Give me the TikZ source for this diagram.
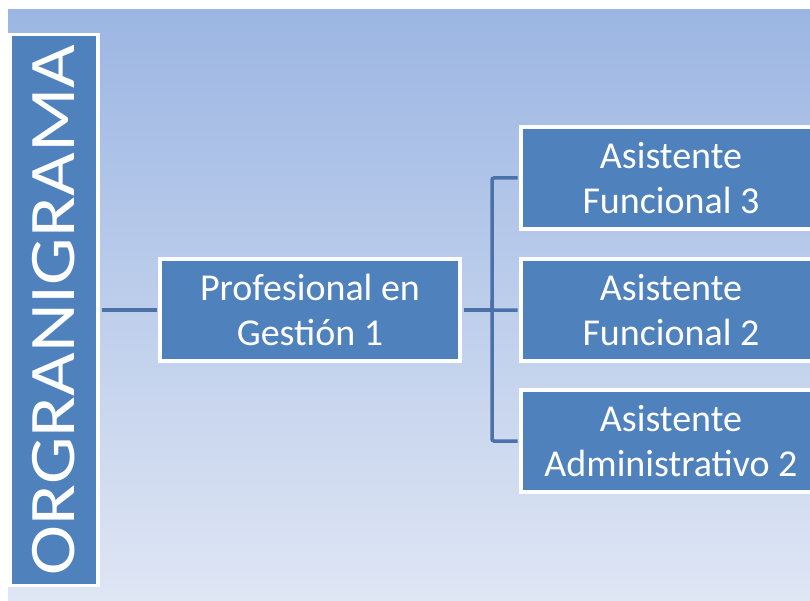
\documentclass[tikz,border=0pt]{standalone}
\usepackage{fontspec}
\setmainfont{Carlito}
\definecolor{boxblue}{HTML}{4F81BD}
\definecolor{linkblue}{HTML}{4A72A8}
\definecolor{skytop}{HTML}{9CB6E3}
\definecolor{skybottom}{HTML}{DFE6F4}

\begin{document}
\begin{tikzpicture}
[x=1pt,y=-1pt,
 unitbox/.style={rectangle,fill=boxblue,draw=white,line width=3.5pt,text=white,
   minimum width=300pt,minimum height=102pt,inner sep=0pt,align=center,
   font=\fontsize{38}{45}\selectfont},
 link/.style={draw=linkblue,line width=3.5pt,rounded corners=2pt}]
  \useasboundingbox (0,0) rectangle (810,601);
  \shade[top color=skytop,bottom color=skybottom] (8,10) rectangle (810,601);

  \node[unitbox,rotate=90,minimum width=551pt,minimum height=88pt,
        font=\fontsize{65}{65}\selectfont] (org) at (54,310)
        {\scalebox{1.16}[1]{ORGRANIGRAMA}};
  \node[unitbox] (prof)  at (310,310) {Profesional en\\Gestión 1};
  \node[unitbox] (asis3) at (671,178) {Asistente\\Funcional 3};
  \node[unitbox] (asis2) at (671,310) {Asistente\\Funcional 2};
  \node[unitbox] (admin) at (671,441) {Asistente\\Administrativo 2};

  \coordinate (split) at (492,310);

  \draw[link,shorten <=1.75pt,shorten >=1.75pt] (org) -- (prof);
  \draw[link,shorten <=1.75pt] (prof) -- (split);
  \foreach \to in {asis3,asis2,admin}
    \draw[link,shorten >=1.75pt] (split) |- (\to);
\end{tikzpicture}
\end{document}
